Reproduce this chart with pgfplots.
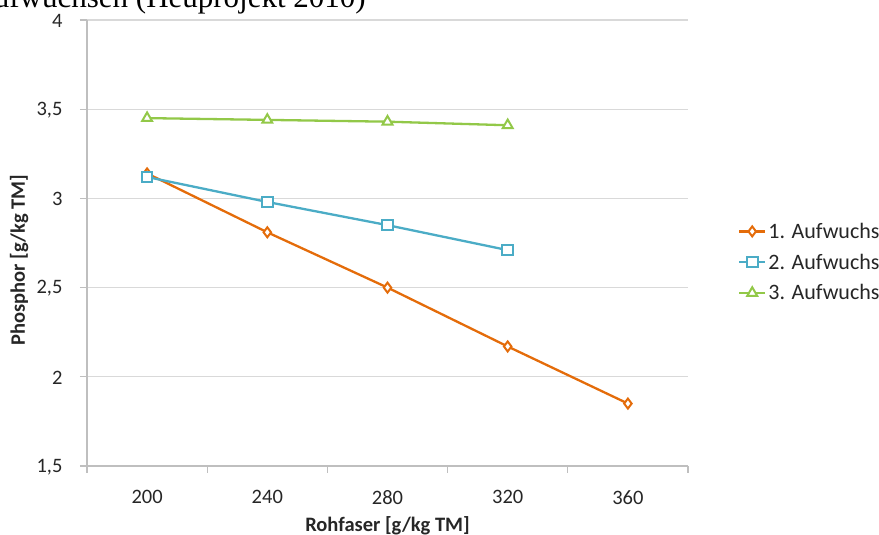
\documentclass[border=0pt]{standalone}
\usepackage{fontspec}
\setmainfont{Carlito}
\newfontfamily\serifhead{Liberation Serif}
\usepackage{pgfplots}
\pgfplotsset{compat=1.18}

\definecolor{cOrange}{RGB}{228,108,10}
\definecolor{cBlue}{RGB}{75,172,198}
\definecolor{cGreen}{RGB}{146,200,72}
\definecolor{cGrid}{RGB}{217,217,217}
\definecolor{cAxis}{RGB}{191,191,191}

\begin{document}
\begin{tikzpicture}[x=1pt,y=1pt]
\useasboundingbox (0,0) rectangle (879,535);
% caption line of the surrounding page, cut at the top edge
\begin{scope}
  \clip (0,0) rectangle (879,535);
  \node[anchor=base east, inner sep=0pt, font=\serifhead\fontsize{31}{34}\selectfont] at (366,527) {Aufwüchsen (Heuprojekt 2010)};
\end{scope}
\begin{axis}[
  at={(87pt,69pt)}, anchor=south west,
  scale only axis, width=601pt, height=446pt,
  xmin=180, xmax=380, ymin=1.5, ymax=4,
  xtick={200,240,280,320,360},
  minor xtick={180,220,260,300,340,380},
  ytick={1.5,2,2.5,3,3.5,4},
  major x tick style={draw=none},
  minor tick length=7pt, major tick length=7pt,
  tick align=outside,
  tick style={cAxis, line width=1.2pt},
  axis x line*=bottom, axis y line*=left,
  axis line style={cAxis, line width=1.2pt, -},
  ymajorgrids, major grid style={cGrid, line width=1.2pt},
  tick label style={font=\fontsize{20.5}{24}\selectfont, text=black!85},
  /pgf/number format/.cd, use comma, assume math mode=true,
  /pgfplots/.cd,
  xticklabel style={yshift=-14pt},
  yticklabel style={xshift=-14pt, yshift=-1pt},
  label style={font=\bfseries\fontsize{20.5}{24}\selectfont, text=black!85},
  xlabel={Rohfaser [g/kg TM]},
  ylabel={Phosphor [g/kg TM]},
  xlabel style={at={(axis description cs:0.5,-0.133)}, anchor=center},
  ylabel style={at={(axis description cs:-0.113,0.462)}, anchor=center, rotate=0},
  legend style={at={(1.083,0.457)}, anchor=west, draw=none, fill=none,
    font=\fontsize{22}{25}\selectfont, text=black!85,
    row sep=10pt, inner sep=0pt},
  legend cell align=left,
  legend image code/.code={%
    \draw[mark repeat=2,mark phase=2] plot coordinates {(0pt,0pt)(13pt,0pt)(26pt,0pt)};},
  every axis plot/.append style={line width=2.3pt},
  clip=false,
]
\addplot[cOrange, mark=diamond*, mark size=5pt, mark options={fill=white, line width=2pt}]
  coordinates {(200,3.14) (240,2.81) (280,2.50) (320,2.17) (360,1.85)};
\addlegendentry{1. Aufwuchs}
\addplot[cBlue, mark=square*, mark size=5.3pt, mark options={fill=white, line width=2pt}]
  coordinates {(200,3.12) (240,2.98) (280,2.85) (320,2.71)};
\addlegendentry{2. Aufwuchs}
\addplot[cGreen, mark=triangle*, mark size=5.7pt, mark options={fill=white, line width=2pt}]
  coordinates {(200,3.45) (240,3.44) (280,3.43) (320,3.41)};
\addlegendentry{3. Aufwuchs}
\end{axis}
\end{tikzpicture}
\end{document}
